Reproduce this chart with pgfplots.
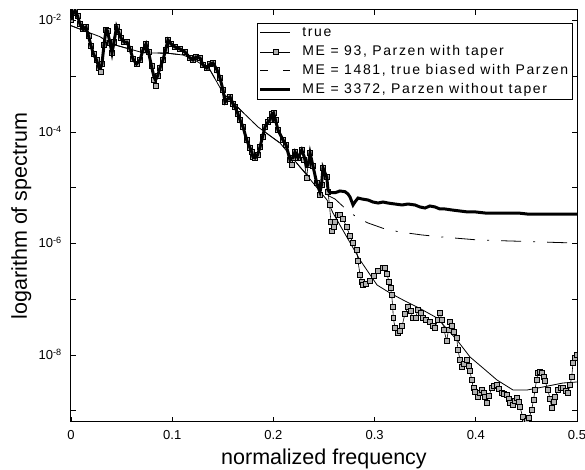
\documentclass[border=0pt]{standalone}
\usepackage{pgfplots}
\pgfplotsset{compat=1.18}
\usepackage{fontspec}
\setmainfont{Liberation Sans}
\pgfplotsset{dashlegend/.style={legend image code/.code={\draw[##1, dash pattern=on 8pt off 15pt on 7pt] (0pt,0pt) -- (30pt,0pt);}}}

\begin{document}
\begin{tikzpicture}
\begin{axis}[
  scale only axis,
  width=506pt, height=412pt,
  xmin=0, xmax=0.5,
  ymin=-9.2017, ymax=-1.8117,
  clip marker paths=true,
  xtick={0,0.1,0.2,0.3,0.4,0.5},
  xticklabels={0,0.1,0.2,0.3,0.4,0.5},
  ytick={-8,-6,-4,-2},
  yticklabels={10\textsuperscript{-8},10\textsuperscript{-6},10\textsuperscript{-4},10\textsuperscript{-2}},
  minor ytick={-9,-7,-5,-3},
  tick align=inside,
  major tick length=5pt, minor tick length=5pt,
  every tick/.style={black, line width=0.8pt},
  axis line style={line width=1pt},
  tick label style={font=\fontsize{13}{15}\selectfont},
  xticklabel style={anchor=base, yshift=-17.5pt},
  yticklabel style={anchor=base east, inner xsep=0pt, xshift=-9pt, yshift=-4.5pt},
  xlabel={normalized frequency},
  ylabel={logarithm of spectrum},
  every axis x label/.style={at={(axis description cs:0.5,0)}, anchor=base, yshift=-42pt, font=\fontsize{21.5}{24}\selectfont},
  every axis y label/.style={at={(axis description cs:0,0.5)}, xshift=-44pt, rotate=90, anchor=base, font=\fontsize{21.5}{24}\selectfont},
  legend style={at={(1,1)}, anchor=north east, xshift=-4pt, yshift=-13pt,
    draw=black, line width=0.8pt,
    font=\fontsize{14}{16}\selectfont\addfontfeatures{LetterSpace=11.5},
    inner xsep=2pt, inner ysep=0pt, row sep=0pt, column sep=8pt,
    nodes={inner sep=2.5pt, text height=10.5pt, text depth=3.5pt}},
  legend cell align=left,
  legend image code/.code={\draw[mark repeat=2,mark phase=2,#1] plot coordinates {(0pt,0pt) (15pt,0pt) (30pt,0pt)};},
]

% true spectrum
\addplot[black, line width=0.8pt] coordinates {
(0.000,-2.093) (0.0287,-2.291) (0.0366,-2.386) (0.0435,-2.439) (0.0711,-2.578)
(0.0958,-2.588) (0.1107,-2.619) (0.1225,-2.709) (0.1374,-2.888) (0.1502,-3.300)
(0.1848,-3.910) (0.2065,-4.197) (0.2263,-4.628) (0.2530,-5.220) (0.2589,-5.453)
(0.2856,-6.296) (0.3024,-6.744) (0.3152,-6.888) (0.3281,-7.013) (0.3449,-7.166)
(0.3617,-7.336) (0.3814,-7.731) (0.3943,-8.036) (0.4071,-8.233) (0.4209,-8.448)
(0.4368,-8.628) (0.4506,-8.628) (0.4664,-8.574) (0.4862,-8.502) (0.5000,-8.484)
};
\addlegendentry{true}

% Parzen with taper
\addplot[black, line width=0.6pt, mark=square*, mark size=2.4pt,
  mark options={fill=gray!60, line width=0.6pt}] coordinates {
(0.000,-1.991) (0.0025,-1.865) (0.004,-1.821) (0.0064,-1.919) (0.0089,-2.063)
(0.0119,-2.152) (0.0148,-2.117) (0.0173,-2.278) (0.0198,-2.457) (0.0222,-2.601)
(0.0252,-2.709) (0.0277,-2.852) (0.0292,-2.924) (0.0306,-2.780) (0.0326,-2.439)
(0.0346,-2.170) (0.0361,-2.188) (0.0385,-2.404) (0.0405,-2.583) (0.0425,-2.386)
(0.0450,-2.117) (0.0469,-2.206) (0.0494,-2.314) (0.0524,-2.386) (0.0553,-2.386)
(0.0583,-2.511) (0.0613,-2.691) (0.0647,-2.780) (0.0682,-2.709) (0.0711,-2.529)
(0.0741,-2.421) (0.0766,-2.565) (0.0795,-2.816) (0.0820,-3.067) (0.0835,-3.175)
(0.0855,-2.996) (0.0879,-2.852) (0.0909,-2.709) (0.0934,-2.529) (0.0958,-2.350)
(0.0988,-2.421) (0.1028,-2.475) (0.1077,-2.511) (0.1126,-2.565)
(0.1176,-2.673) (0.1206,-2.709) (0.1235,-2.655) (0.1275,-2.673) (0.1304,-2.798)
(0.1341,-2.852) (0.1374,-2.780) (0.1403,-2.762) (0.1443,-2.888) (0.1472,-3.031)
(0.1502,-3.247) (0.1522,-3.462) (0.1546,-3.408) (0.1571,-3.372) (0.1601,-3.498)
(0.1621,-3.552) (0.1650,-3.677) (0.1670,-3.785) (0.1700,-3.910) (0.1736,-4.143)
(0.1769,-4.287) (0.1786,-4.359) (0.1798,-4.448) (0.1818,-4.466) (0.1843,-4.413)
(0.1868,-4.269) (0.1892,-4.090) (0.1917,-3.910) (0.1947,-3.821) (0.1966,-3.785)
(0.1986,-3.677) (0.2001,-3.659) (0.2021,-3.785) (0.2045,-3.964) (0.2095,-4.143)
(0.2125,-4.233) (0.2164,-4.502) (0.2179,-4.592) (0.2194,-4.466) (0.2213,-4.359)
(0.2243,-4.466) (0.2280,-4.323) (0.2302,-4.502) (0.2329,-4.825) (0.2342,-4.592)
(0.2362,-4.377) (0.2391,-4.610) (0.2428,-4.915) (0.2460,-5.130) (0.2475,-4.951)
(0.2490,-4.646) (0.2527,-4.807) (0.2540,-5.076) (0.2554,-5.309) (0.2569,-5.614)
(0.2576,-5.776) (0.2594,-5.704) (0.2609,-5.614) (0.2638,-5.489) (0.2658,-5.489)
(0.2688,-5.561) (0.2724,-5.704) (0.2757,-5.865) (0.2787,-5.991) (0.2823,-6.117)
(0.2836,-6.314) (0.2856,-6.565) (0.2873,-6.690) (0.2885,-6.744) (0.2915,-6.726)
(0.2955,-6.673) (0.2994,-6.583) (0.3034,-6.493) (0.3083,-6.440) (0.3103,-6.440)
(0.3123,-6.547) (0.3142,-6.690) (0.3157,-6.798) (0.3169,-6.924) (0.3179,-7.139)
(0.3185,-7.336) (0.3202,-7.516) (0.3231,-7.605) (0.3251,-7.569) (0.3271,-7.480)
(0.3300,-7.265) (0.3330,-7.139) (0.3355,-7.211) (0.3379,-7.336) (0.3404,-7.336)
(0.3429,-7.193) (0.3454,-7.247) (0.3478,-7.336) (0.3508,-7.372) (0.3547,-7.408)
(0.3577,-7.480) (0.3597,-7.516) (0.3622,-7.372) (0.3646,-7.247) (0.3666,-7.372)
(0.3686,-7.551) (0.3712,-7.749) (0.3730,-7.551) (0.3745,-7.408) (0.3765,-7.480)
(0.3785,-7.587) (0.3811,-7.695) (0.3824,-7.910) (0.3844,-8.090) (0.3861,-8.215)
(0.3878,-8.161) (0.3910,-8.090) (0.3928,-8.197) (0.3943,-8.287) (0.3959,-8.448)
(0.3977,-8.592) (0.3992,-8.664) (0.4022,-8.753) (0.4042,-8.681) (0.4058,-8.628)
(0.4076,-8.681) (0.4091,-8.753) (0.4108,-8.861) (0.4130,-8.735) (0.4157,-8.592)
(0.4180,-8.556) (0.4207,-8.538) (0.4229,-8.610) (0.4256,-8.681) (0.4279,-8.699)
(0.4305,-8.717) (0.4323,-8.789) (0.4338,-8.861) (0.4368,-8.897) (0.4387,-8.825)
(0.4404,-8.771) (0.4422,-8.843) (0.4437,-8.933) (0.4463,-9.112) (0.4486,-9.190)
(0.4506,-9.184) (0.4526,-9.130) (0.4552,-8.986) (0.4570,-8.807) (0.4585,-8.628)
(0.4600,-8.448) (0.4615,-8.323) (0.4634,-8.305) (0.4651,-8.323) (0.4669,-8.394)
(0.4684,-8.466) (0.4713,-8.628) (0.4733,-8.789) (0.4750,-8.951) (0.4768,-8.843)
(0.4783,-8.753) (0.4812,-8.628) (0.4842,-8.592) (0.4862,-8.592) (0.4891,-8.646)
(0.4911,-8.681) (0.4931,-8.538) (0.4948,-8.394) (0.4960,-8.143) (0.4980,-8.054)
(0.5000,-8.000)
};
\addlegendentry{ME = 93, Parzen with taper}

% true biased with Parzen
\addplot[black, line width=0.8pt, dash pattern=on 20pt off 12pt on 2pt off 12pt, dashlegend]
coordinates {
(0.000,-2.093) (0.0287,-2.291) (0.0366,-2.386) (0.0435,-2.439) (0.0711,-2.578)
(0.0958,-2.588) (0.1107,-2.619) (0.1225,-2.709) (0.1374,-2.888) (0.1502,-3.300)
(0.1848,-3.910) (0.2065,-4.197) (0.2263,-4.628) (0.2411,-4.915) (0.2510,-5.112)
(0.2609,-5.202) (0.2737,-5.417) (0.2836,-5.543) (0.2935,-5.632) (0.3103,-5.740)
(0.3251,-5.794) (0.3468,-5.847) (0.3666,-5.883) (0.4022,-5.937) (0.4338,-5.955)
(0.4585,-5.968) (0.4802,-5.982) (0.5000,-5.991)
};
\addlegendentry{ME = 1481, true biased with Parzen}

% Parzen without taper
\addplot[black, line width=3pt] coordinates {
(0.000,-1.991) (0.0025,-1.865) (0.004,-1.821) (0.0064,-1.919) (0.0089,-2.063)
(0.0119,-2.152) (0.0148,-2.117) (0.0173,-2.278) (0.0198,-2.457) (0.0222,-2.601)
(0.0252,-2.709) (0.0277,-2.852) (0.0292,-2.852) (0.0306,-2.780) (0.0326,-2.439)
(0.0346,-2.170) (0.0361,-2.188) (0.0385,-2.404) (0.0405,-2.583) (0.0425,-2.386)
(0.0450,-2.117) (0.0469,-2.206) (0.0494,-2.314) (0.0524,-2.386) (0.0553,-2.386)
(0.0583,-2.511) (0.0613,-2.691) (0.0647,-2.780) (0.0682,-2.709) (0.0711,-2.529)
(0.0741,-2.421) (0.0766,-2.565) (0.0795,-2.816) (0.0820,-3.013) (0.0835,-3.067)
(0.0855,-2.996) (0.0879,-2.852) (0.0909,-2.709) (0.0934,-2.529) (0.0958,-2.350)
(0.0988,-2.421) (0.1028,-2.475) (0.1077,-2.511) (0.1126,-2.565)
(0.1176,-2.673) (0.1206,-2.709) (0.1235,-2.655) (0.1275,-2.673) (0.1304,-2.798)
(0.1341,-2.852) (0.1374,-2.780) (0.1403,-2.762) (0.1443,-2.888) (0.1472,-3.031)
(0.1502,-3.247) (0.1522,-3.462) (0.1546,-3.408) (0.1571,-3.372) (0.1601,-3.498)
(0.1621,-3.552) (0.1650,-3.677) (0.1670,-3.785) (0.1700,-3.910) (0.1736,-4.143)
(0.1769,-4.287) (0.1786,-4.359) (0.1798,-4.448) (0.1818,-4.466) (0.1843,-4.413)
(0.1868,-4.269) (0.1892,-4.090) (0.1917,-3.910) (0.1947,-3.821) (0.1966,-3.785)
(0.1986,-3.677) (0.2001,-3.659) (0.2021,-3.785) (0.2045,-3.964) (0.2095,-4.143)
(0.2125,-4.233) (0.2164,-4.502) (0.2179,-4.466) (0.2194,-4.466) (0.2213,-4.359)
(0.2243,-4.466) (0.2280,-4.323) (0.2302,-4.430) (0.2329,-4.610) (0.2342,-4.592)
(0.2362,-4.377) (0.2391,-4.610) (0.2428,-4.915) (0.2460,-5.076) (0.2475,-4.951)
(0.2490,-4.646) (0.2527,-4.807) (0.2540,-5.040) (0.2559,-5.089) (0.2609,-5.089)
(0.2658,-5.058) (0.2708,-5.071) (0.2737,-5.112) (0.2757,-5.166) (0.2787,-5.309)
(0.2806,-5.256) (0.2836,-5.184) (0.2875,-5.202) (0.2935,-5.220) (0.2984,-5.256)
(0.3034,-5.274) (0.3083,-5.256) (0.3132,-5.274) (0.3202,-5.292) (0.3271,-5.309)
(0.3330,-5.292) (0.3399,-5.309) (0.3449,-5.345) (0.3498,-5.363) (0.3547,-5.327)
(0.3597,-5.345) (0.3646,-5.381) (0.3696,-5.381) (0.3765,-5.399) (0.3844,-5.417)
(0.3923,-5.435) (0.4002,-5.435) (0.4091,-5.453) (0.4190,-5.453) (0.4289,-5.453)
(0.4417,-5.453) (0.4506,-5.471) (0.4585,-5.471) (0.4684,-5.471) (0.4753,-5.471)
(0.4832,-5.471) (0.4911,-5.471) (0.5000,-5.471)
};
\addlegendentry{ME = 3372, Parzen without taper}

\end{axis}
\pgfresetboundingbox
\path[use as bounding box] ([shift={(-71pt,-48pt)}]current axis.south west) rectangle ([shift={(8pt,10pt)}]current axis.north east);
\end{tikzpicture}
\end{document}
